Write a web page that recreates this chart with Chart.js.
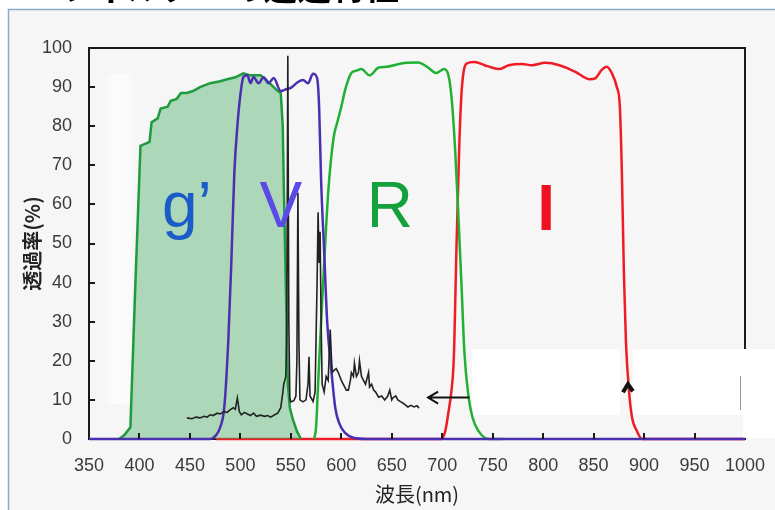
<!DOCTYPE html>
<html lang="ja">
<head>
<meta charset="utf-8">
<title>フィルター透過特性</title>
<script src="https://cdn.jsdelivr.net/npm/chart.js@4.4.1/dist/chart.umd.min.js"></script>
<style>
  html, body { margin: 0; padding: 0; background: #ffffff; overflow: hidden; }
  #wrap { position: relative; width: 775px; height: 510px; }
  #slideTitle {
    position: absolute; left: 60px; top: -39px; z-index: 2;
    font: bold 34px "Noto Sans CJK JP", sans-serif; color: #000; white-space: nowrap;
  }
  canvas { position: absolute; left: 0; top: 0; }
</style>
</head>
<body>
<div id="wrap">
  <div id="slideTitle">フィルターの透過特性</div>
  <canvas id="filterChart" width="775" height="510"></canvas>
</div>
<script>
// Transmission curves (wavelength nm -> transmission %)
const gWave  = [380, 385, 391, 396, 401, 410, 412, 418, 421, 428, 431, 437, 441, 447, 453, 460, 470, 480, 487, 495, 503, 510, 520, 527, 533, 537, 540, 542, 543, 545, 547, 549, 552, 556, 560];
const gTrans = [0, 1, 3, 40, 75, 76, 81, 82, 84.5, 85, 86.5, 87, 88.5, 88.5, 89, 90, 91, 91.5, 92, 92.5, 93.5, 93, 93, 91.5, 90, 89, 88.5, 80, 65, 40, 14, 8, 5, 2, 0];

const vWave  = [350, 470, 476, 480, 484, 488, 491, 494, 497, 500, 503, 507, 510, 513, 518, 523, 528, 533, 540, 546, 550, 557, 562, 567, 572, 576, 578, 580, 583, 586, 590, 594, 598, 604, 612, 625, 1000];
const vTrans = [0, 0, 1, 3, 8, 25, 45, 68, 80, 88, 92.6, 93, 91, 92.6, 91, 92.5, 91, 92.3, 89, 89.5, 89.8, 91.3, 91.8, 91, 93.4, 92.3, 85, 66, 48, 30, 18, 8, 4, 1.5, 0.3, 0, 0];

const rWave  = [573, 575, 577, 580, 583, 587, 590, 593, 596, 600, 604, 610, 615, 620, 628, 637, 645, 655, 665, 676, 686, 694, 702, 707, 710, 713, 716, 719, 722, 726, 730, 736, 746, 760];
const rTrans = [0, 3, 14, 30, 45, 63, 72, 78, 81, 85, 89.5, 93.6, 94.2, 94.6, 93, 95, 95.2, 95.8, 96.2, 96.3, 95, 93.6, 94.6, 92, 85, 73, 57, 40, 22, 11, 5.5, 2, 0, 0];

const iWave  = [476, 699, 703, 706, 709, 711, 712, 714, 717, 719, 721, 724, 732, 742, 749, 756, 766, 779, 789, 802, 816, 832, 846, 852, 858, 863, 868, 873, 876, 878, 880, 882, 885, 888, 893, 898, 1000];
const iTrans = [0, 0, 2, 6.6, 12, 18, 25, 48, 76, 88, 93.6, 96, 96.4, 95.6, 95, 94.6, 95.6, 95.9, 95.6, 96.2, 95.6, 93.9, 92, 92.3, 94.4, 95.2, 93.6, 90, 85, 68, 42.5, 25, 12.5, 5.6, 2, 0, 0];

// Street-light emission spectrum (relative)
const lampWave = [447, 452, 456, 460, 464, 467, 470, 473, 477, 480, 484, 487, 490, 493, 495, 497, 499, 501, 504, 507, 510, 513, 516, 520, 524, 527, 530, 534, 537, 540, 542, 543, 545, 546, 547, 548, 549, 550, 553, 555, 556, 557, 558, 559, 562, 565, 567, 568, 569, 572, 574, 576, 577, 578, 579, 580, 581, 583, 585, 587, 589, 590, 591, 593, 595, 597, 600, 602, 605, 607, 609, 610, 612, 613, 615, 617, 618, 620, 622, 624, 627, 628, 630, 632, 634, 637, 640, 643, 646, 648, 650, 651, 654, 656, 659, 661, 664, 666, 669, 672, 675, 677];
const lampVal  = [5.4, 5.2, 5.6, 5.4, 5.8, 5.6, 6.2, 6.0, 6.6, 6.4, 7.0, 6.8, 7.5, 8, 7.6, 10.5, 7, 6.2, 6.8, 6.4, 6.0, 6.6, 5.8, 6.1, 5.8, 6.0, 5.6, 6.2, 6.6, 8, 11.8, 14, 16, 30, 98, 30, 10.5, 9.5, 9.8, 11, 20, 63, 25, 10, 9.5, 10, 14, 21, 11, 9.6, 12, 40, 58, 45, 53, 30, 14, 12, 16, 15, 28, 22, 17, 17.6, 18, 17, 15, 14, 12.5, 12.5, 15, 17, 16, 19.4, 16, 17, 20, 16, 15, 14, 17, 13.3, 14, 12.5, 12, 10.7, 11, 10, 11, 12.5, 10, 10.5, 11, 10, 9.5, 9.2, 8.6, 8.2, 8.6, 8.2, 8.5, 7.9];

const bandNames = ['g’', 'V', 'R', 'I'];

function toPoints(xs, ys) {
    return xs.map((x, i) => ({ x: x, y: ys[i] }));
}

// Slide frame, axis box, inward ticks and band annotations
const slideDecor = {
    id: 'slideDecor',
    beforeDraw(chart) {
        const ctx = chart.ctx;
        ctx.save();
        ctx.fillStyle = '#ffffff';
        ctx.fillRect(0, 0, chart.width, chart.height);
        ctx.fillStyle = '#f6f6f6';
        ctx.fillRect(9, 10, chart.width - 9, chart.height - 10);
        ctx.strokeStyle = '#8fa9c4';
        ctx.lineWidth = 1.5;
        ctx.beginPath();
        ctx.moveTo(8.5, chart.height);
        ctx.lineTo(8.5, 9.5);
        ctx.lineTo(chart.width, 9.5);
        ctx.stroke();
        ctx.restore();
    },
    beforeDatasetsDraw(chart) {
        const ctx = chart.ctx;
        const area = chart.chartArea;
        ctx.save();
        // top and right edges of the plot box
        ctx.strokeStyle = '#1a1a1a';
        ctx.lineWidth = 2;
        ctx.beginPath();
        ctx.moveTo(area.left, area.top);
        ctx.lineTo(area.right, area.top);
        ctx.lineTo(area.right, 352);
        ctx.stroke();
        // pasted-over white patches
        ctx.fillStyle = '#ffffff';
        ctx.fillRect(472, 349, 148, 66);
        ctx.fillRect(633, 349, 110, 66);
        ctx.fillRect(743, 349, chart.width - 743, 89);
        const haze = ctx.createLinearGradient(104, 0, 132, 0);
        haze.addColorStop(0, 'rgba(255,255,255,0)');
        haze.addColorStop(0.4, 'rgba(255,255,255,0.7)');
        haze.addColorStop(1, 'rgba(255,255,255,0.4)');
        ctx.fillStyle = haze;
        ctx.fillRect(104, 74, 28, 330);
        ctx.strokeStyle = '#9a9a9a';
        ctx.lineWidth = 1;
        ctx.beginPath();
        ctx.moveTo(740.5, 376);
        ctx.lineTo(740.5, 410);
        ctx.stroke();
        ctx.restore();
    },
    afterDatasetsDraw(chart, args, opts) {
        const ctx = chart.ctx;
        const xs = chart.scales.x;
        const ys = chart.scales.y;
        const area = chart.chartArea;
        ctx.save();
        ctx.strokeStyle = '#1a1a1a';
        ctx.lineWidth = 2;
        ctx.beginPath();
        ys.ticks.forEach(t => {
            if (t.value <= ys.min || t.value >= ys.max) return;
            const py = Math.round(ys.getPixelForValue(t.value));
            ctx.moveTo(area.left, py);
            ctx.lineTo(area.left + 6, py);
        });
        xs.ticks.forEach(t => {
            if (t.value <= xs.min || t.value >= xs.max) return;
            const px = Math.round(xs.getPixelForValue(t.value));
            ctx.moveTo(px, area.bottom);
            ctx.lineTo(px, area.bottom - 6);
        });
        ctx.stroke();

        // band letters
        ctx.textAlign = 'center';
        ctx.textBaseline = 'alphabetic';
        opts.labels.forEach((lb, i) => {
            ctx.font = (lb.bold ? 'bold ' : '') + '64px "Liberation Sans", Arial, sans-serif';
            ctx.fillStyle = lb.color;
            ctx.fillText(bandNames[i], xs.getPixelForValue(lb.x), ys.getPixelForValue(lb.y));
        });

        // arrow pointing at the lamp spectrum
        const a = opts.arrow;
        const ax0 = xs.getPixelForValue(a.from), ax1 = xs.getPixelForValue(a.to);
        const ay = ys.getPixelForValue(a.y);
        ctx.strokeStyle = '#111';
        ctx.lineWidth = 2;
        ctx.beginPath();
        ctx.moveTo(ax0, ay);
        ctx.lineTo(ax1, ay);
        ctx.moveTo(ax1 + 10, ay - 6);
        ctx.lineTo(ax1, ay);
        ctx.lineTo(ax1 + 10, ay + 6);
        ctx.stroke();

        // small caret on the I cut-off
        const cx = xs.getPixelForValue(opts.caret.x);
        const cy = ys.getPixelForValue(opts.caret.y);
        ctx.strokeStyle = '#111';
        ctx.lineWidth = 4;
        ctx.lineJoin = 'miter';
        ctx.beginPath();
        ctx.moveTo(cx - 5, cy + 6);
        ctx.lineTo(cx, cy - 2);
        ctx.lineTo(cx + 5, cy + 5);
        ctx.stroke();
        ctx.restore();
    }
};

const lineBase = {
    pointRadius: 0,
    fill: false,
    clip: false,
    borderWidth: 2.5
};

const tickFont = { family: '"Liberation Sans", Arial, sans-serif', size: 18 };

const config = {
    type: 'line',
    data: {
        datasets: [
            Object.assign({}, lineBase, {
                label: 'lamp',
                data: toPoints(lampWave, lampVal),
                borderColor: '#222222',
                borderWidth: 1.6,
                tension: 0
            }),
            Object.assign({}, lineBase, {
                label: 'V',
                data: toPoints(vWave, vTrans),
                borderColor: '#4a2fb0',
                cubicInterpolationMode: 'monotone'
            }),
            Object.assign({}, lineBase, {
                label: 'g’',
                data: toPoints(gWave, gTrans),
                borderColor: '#1f9a3f',
                backgroundColor: 'rgba(70, 175, 100, 0.42)',
                fill: 'origin',
                tension: 0
            }),
            Object.assign({}, lineBase, {
                label: 'R',
                data: toPoints(rWave, rTrans),
                borderColor: '#21b034',
                cubicInterpolationMode: 'monotone'
            }),
            Object.assign({}, lineBase, {
                label: 'I',
                data: toPoints(iWave, iTrans),
                borderColor: '#ee1c25',
                cubicInterpolationMode: 'monotone'
            })
        ]
    },
    options: {
        responsive: false,
        devicePixelRatio: 1,
        animation: false,
        parsing: false,
        layout: { padding: { top: 48, right: 30, left: 0, bottom: 0 } },
        plugins: {
            legend: { display: false },
            tooltip: { enabled: false },
            slideDecor: {
                labels: [
                    { x: 447, y: 54.2, color: '#1a5cc8' },
                    { x: 540, y: 54.2, color: '#5a4be8' },
                    { x: 648, y: 54.2, color: '#14a03c' },
                    { x: 803, y: 53.4, color: '#ee1122', bold: true }
                ],
                arrow: { from: 727, to: 686, y: 10.6 },
                caret: { x: 884, y: 13.5 }
            }
        },
        scales: {
            x: {
                type: 'linear',
                min: 350,
                max: 1000,
                afterFit(scale) {
                    scale.height = 71;
                    scale.paddingLeft = 0;
                    scale.paddingRight = 0;
                },
                ticks: {
                    stepSize: 50,
                    autoSkip: false,
                    maxRotation: 0,
                    padding: 16,
                    color: '#3a3a3a',
                    font: tickFont,
                    callback: v => String(v)
                },
                grid: { display: false, drawTicks: false },
                border: { display: true, color: '#1a1a1a', width: 2 },
                title: {
                    display: true,
                    text: '波長(nm)',
                    color: '#222',
                    font: { family: '"Noto Sans CJK JP", sans-serif', size: 20 },
                    padding: { top: 0, bottom: 4 }
                }
            },
            y: {
                min: 0,
                max: 100,
                afterFit(scale) { scale.width = 89; },
                ticks: {
                    stepSize: 10,
                    padding: 17,
                    color: '#3a3a3a',
                    font: tickFont,
                    callback: v => String(v)
                },
                grid: { display: false, drawTicks: false },
                border: { display: true, color: '#1a1a1a', width: 2 },
                title: {
                    display: true,
                    text: '透過率(%)',
                    color: '#222',
                    font: { family: '"Noto Sans CJK JP", sans-serif', size: 20, weight: 'bold' },
                    padding: { top: 20, bottom: 0 }
                }
            }
        }
    },
    plugins: [slideDecor]
};

window.filterChart = new Chart(document.getElementById('filterChart'), config);
</script>
</body>
</html>
